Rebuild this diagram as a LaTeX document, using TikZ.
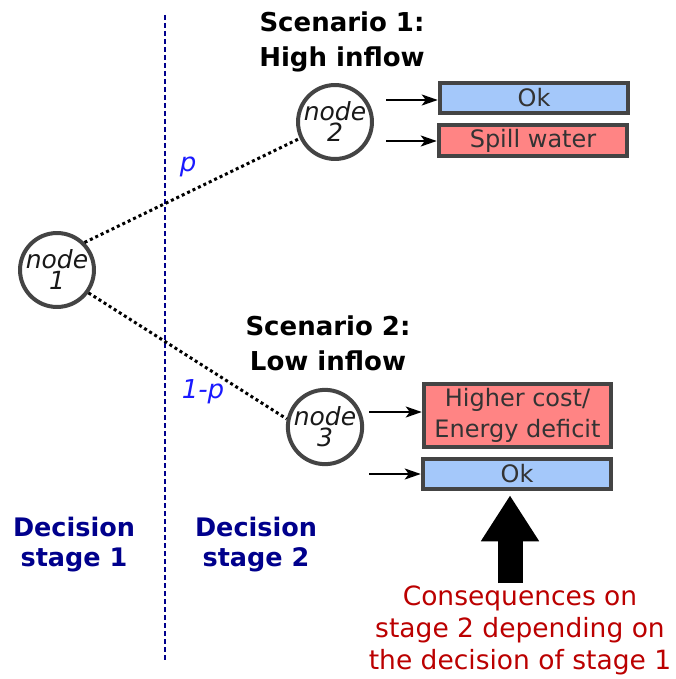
\documentclass[tikz,border=0pt]{standalone}
\usepackage{fontspec}
\setmainfont{DejaVu Sans}
\usetikzlibrary{arrows.meta}
\definecolor{ringcol}{HTML}{444444}
\definecolor{okfill}{HTML}{A4C8FA}
\definecolor{badfill}{HTML}{FF8484}
\definecolor{stagecol}{HTML}{00008C}
\definecolor{probcol}{HTML}{1A1AFF}
\definecolor{notecol}{HTML}{BB0000}
\definecolor{boxtext}{HTML}{333333}
\begin{document}
\begin{tikzpicture}[x=1pt,y=-1pt,
  treenode/.style={circle, draw=ringcol, line width=4pt, fill=white,
    minimum size=72pt, inner sep=0pt, align=center, text=black!90,
    font=\fontsize{25}{21}\selectfont\itshape},
  outcome/.style={rectangle, draw=ringcol, line width=4.5pt, inner sep=0pt,
    minimum width=188pt, text=boxtext, align=center,
    font=\fontsize{24}{31}\selectfont},
  okbox/.style={outcome, fill=okfill, minimum height=30pt},
  badbox/.style={outcome, fill=badfill},
  branch/.style={line width=3pt, dash pattern=on 3pt off 3pt},
  stagesep/.style={stagecol, line width=1.3pt, dash pattern=on 5pt off 3pt},
  result/.style={line width=2.2pt, -{Stealth[length=16pt,width=11pt,inset=4pt]}},
  prob/.style={text=probcol, font=\fontsize{26}{28}\selectfont\itshape},
  scen/.style={align=center, font=\fontsize{26}{35}\selectfont\bfseries},
  stage/.style={align=center, text=stagecol, font=\fontsize{25.5}{30}\selectfont\bfseries},
  note/.style={align=center, text=notecol, font=\fontsize{26.5}{32}\selectfont}]
\useasboundingbox (0,0) rectangle (676,679);

% stage separator
\coordinate (sepTop) at (165,15);
\coordinate (sepBot) at (165,660);
\draw[stagesep] (sepTop) -- (sepBot);

% tree nodes
\node[treenode] (n1) at (57,270) {node\\1};
\node[treenode] (n2) at (335,122) {node\\2};
\node[treenode] (n3) at (325,427) {node\\3};

% scenario branches
\draw[branch] (n1.45) -- (n2.205);
\draw[branch] (n1.-36) -- (n3.168);
\node[prob] (pHigh) at (188,167) {p};
\node[prob] (pLow) at (203,392) {1-p};

% scenario titles
\node[scen] (s1) at (342,42) {Scenario 1:\\High inflow};
\node[scen] (s2) at (328,343) {Scenario 2:\\Low inflow};

% outcomes of scenario 1
\node[okbox] (okA) at (534,98) {Ok};
\node[badbox, minimum height=31pt] (spill) at (533,140.5) {Spill water};
\coordinate (a1) at (386,100);
\coordinate (a2) at (386,141);
\draw[result] (a1) -- (a1 -| okA.west);
\draw[result] (a2) -- (a2 -| spill.west);

% outcomes of scenario 2
\node[badbox, minimum height=63pt, minimum width=187pt] (cost) at (517.5,415.5) {Higher cost/\\Energy deficit};
\node[okbox] (okB) at (517,474) {Ok};
\coordinate (a3) at (369,412);
\coordinate (a4) at (369,474);
\draw[result] (a3) -- (a3 -| cost.west);
\draw[result] (a4) -- (a4 -| okB.west);

% stage labels
\node[stage] (st1) at (74,545) {Decision\\stage 1};
\node[stage] (st2) at (256,545) {Decision\\stage 2};

% consequence note and its arrow
\coordinate (bigTail) at (510,583);
\draw[line width=25pt, -{Triangle[width=55pt,length=46pt]}, shorten >=4pt]
  (bigTail) -- (bigTail |- okB.south);
\node[note] (cons) at (520,630) {Consequences on\\stage 2 depending on\\the decision of stage 1};
\end{tikzpicture}
\end{document}
